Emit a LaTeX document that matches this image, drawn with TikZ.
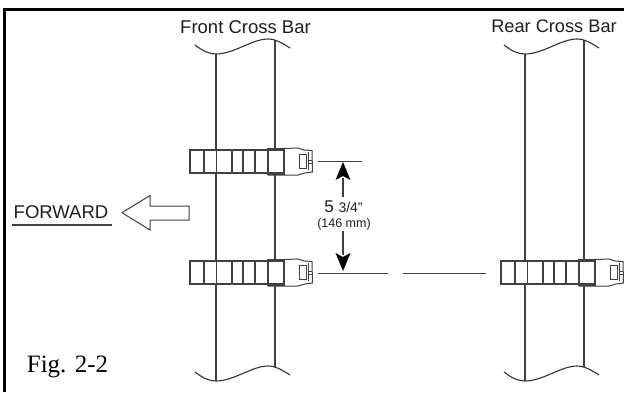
\documentclass[tikz,border=0pt]{standalone}
\usepackage{fontspec}
\setmainfont{Liberation Sans}
\newfontfamily\serifcap{Liberation Serif}
\definecolor{ink}{gray}{0.25}
\tikzset{
  x=1pt,y=-1pt,
  inkline/.style={draw=ink,line width=1.5pt},
  thinline/.style={draw=ink,line width=1pt},
  strapline/.style={draw=ink,line width=1.5pt,fill=white},
  label/.style={inner sep=0pt,text=black!88},
  pics/crossbar/.style={code={
    \draw[inkline] (0,54)--(0,381) (59,40)--(59,367);
    \draw[draw=black!80,line width=1.1pt] (-21,45) .. controls (-12,52) and (-6,54) .. (0,54) .. controls (18,54) and (36,39) .. (52,39) .. controls (60,39) and (66,43) .. (74,48);
    \draw[draw=black!80,line width=1.1pt] (-21,372) .. controls (-12,379) and (-6,381) .. (0,381) .. controls (18,381) and (36,366) .. (52,366) .. controls (60,366) and (66,370) .. (74,375);
  }},
  pics/strap/.style={code={
    \draw[thinline,fill=white] (78,-1.5)--(94,-1.5)--(108,-2)--(114,0)--(122,0.5)--(122.5,22)--(115,23)--(108,25)--(94,25)--(78,25)--cycle;
    \draw[strapline] (0,0) rectangle (94,23);
    \foreach \px in {14,26.7,42,53,65} \draw[inkline] (\px,0)--(\px,23);
    \draw[inkline] (78,-1.5) rectangle (94,24.5);
    \draw[thinline] (80,0.8)--(92,0.8);
    \draw[thinline] (109,4) rectangle (116,18);
    \draw[thinline] (118,2)--(118,20) (118,10)--(122,10) (118,13)--(122,13);
  }}
}
\begin{document}
\begin{tikzpicture}
\useasboundingbox (0,0) rectangle (624,392);
\fill[white] (0,0) rectangle (624,392);
\draw[black,line width=3pt] (4.5,392)--(4.5,9)--(624,9);
\pic at (216,0) {crossbar};
\pic at (525,0) {crossbar};
\pic at (190,150) {strap};
\pic at (190,261) {strap};
\pic at (501,261) {strap};
\node[label,font=\fontsize{18.5}{20}\selectfont] (front) at (245.5,27.5) {Front Cross Bar};
\node[label,font=\fontsize{18.2}{20}\selectfont] (rear) at (554,26.5) {Rear Cross Bar};
\node[label,font=\fontsize{18.5}{20}\selectfont] (fwd) at (61,212) {FORWARD};
\coordinate (ulA) at (12,225); \coordinate (ulB) at (112,225);
\draw[inkline] (ulA)--(ulB);
\draw[thinline,fill=white] (122,212.7)--(150,195.5)--(150,206)--(189,206)--(189,220)--(150,220)--(150,230)--cycle;
\coordinate (d1a) at (318,161); \coordinate (d1b) at (362,161);
\coordinate (d2a) at (318,273.5); \coordinate (d2b) at (388,273.5);
\coordinate (d3a) at (403,273.5); \coordinate (d3b) at (486,273.5);
\draw[thinline] (d1a)--(d1b) (d2a)--(d2b) (d3a)--(d3b);
\node[label,font=\fontsize{17}{19}\selectfont] (dim) at (343.5,207) {5 {\fontsize{14}{16}\selectfont 3/4"}};
\node[label,font=\fontsize{12.5}{14}\selectfont] (mm) at (344,224) {(146 mm)};
\coordinate (ar1) at (343,162); \coordinate (ar1b) at (343,197);
\coordinate (ar2) at (343,271); \coordinate (ar2b) at (343,231);
\draw[inkline] (ar1b)--(343,178) (ar2b)--(343,255);
\fill[black] (ar1)--(350.5,180)--(343,176)--(335.5,180)--cycle;
\fill[black] (ar2)--(350.5,253)--(343,257)--(335.5,253)--cycle;
\node[inner sep=0pt,text=black,font=\serifcap\fontsize{25}{27}\selectfont] (fig) at (67.5,367) {Fig. 2-2};
\end{tikzpicture}
\end{document}
